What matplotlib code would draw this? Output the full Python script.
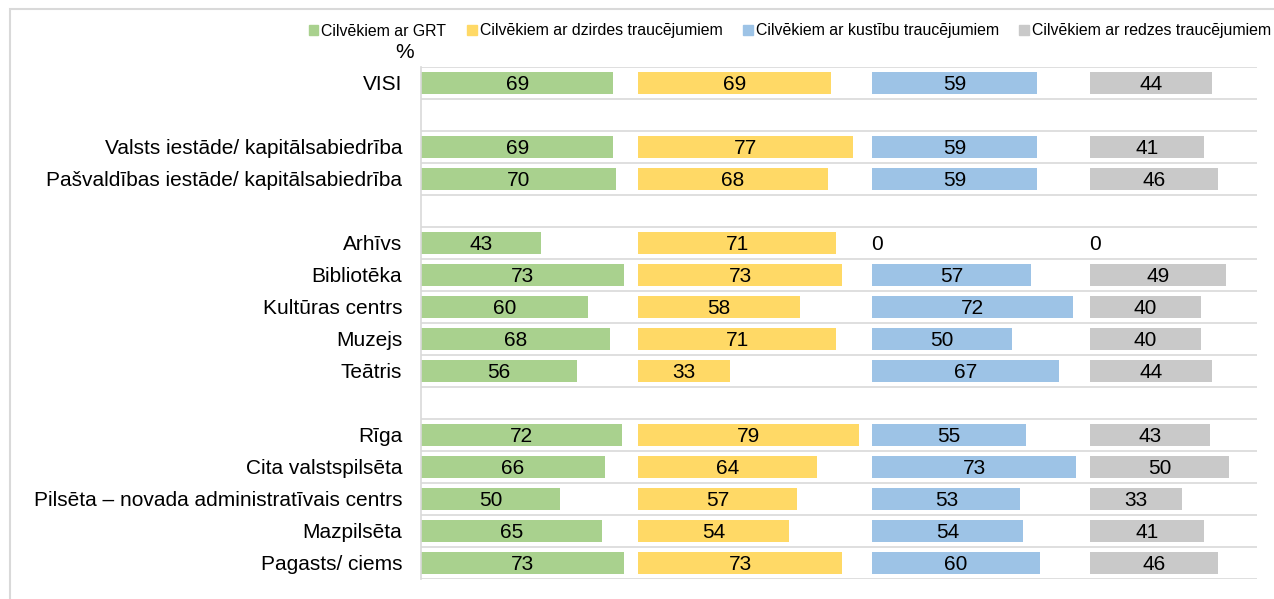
import matplotlib.pyplot as plt
import numpy as np
from matplotlib.patches import Rectangle

plt.rcParams["font.family"] = ["Liberation Sans", "DejaVu Sans"]

categories = [
    "VISI", "",
    "Valsts iestāde/ kapitālsabiedrība",
    "Pašvaldības iestāde/ kapitālsabiedrība", "",
    "Arhīvs", "Bibliotēka", "Kultūras centrs", "Muzejs", "Teātris", "",
    "Rīga", "Cita valstspilsēta",
    "Pilsēta – novada administratīvais centrs",
    "Mazpilsēta", "Pagasts/ ciems",
]
series_names = [
    "Cilvēkiem ar GRT",
    "Cilvēkiem ar dzirdes traucējumiem",
    "Cilvēkiem ar kustību traucējumiem",
    "Cilvēkiem ar redzes traucējumiem",
]
# None = empty spacer row
grt = [69, None, 69, 70, None, 43, 73, 60, 68, 56, None, 72, 66, 50, 65, 73]
dzirdes = [69, None, 77, 68, None, 71, 73, 58, 71, 33, None, 79, 64, 57, 54, 73]
kustibu = [59, None, 59, 59, None, 0, 57, 72, 50, 67, None, 55, 73, 53, 54, 60]
redzes = [44, None, 41, 46, None, 0, 49, 40, 40, 44, None, 43, 50, 33, 41, 46]

COLORS = ["#a9d18e", "#ffd966", "#9dc3e6", "#c9c9c9"]
GAP = 5

fig = plt.figure(figsize=(12.74, 5.99), dpi=100)
ax = fig.add_axes([421 / 1274, 1 - 579 / 599, (1257 - 421) / 1274, 512 / 599])

y = np.arange(len(categories))
offset = 0
handles = []
for name, vals, color in zip(series_names, [grt, dzirdes, kustibu, redzes], COLORS):
    v = np.array([np.nan if x is None else x for x in vals], dtype=float)
    ax.barh(y, np.nan_to_num(v), left=offset, height=0.66, color=color,
            edgecolor="none")
    handles.append(Rectangle((0, 0), 1, 1, color=color))
    for yi, val in zip(y, v):
        if np.isnan(val):
            continue
        xt = offset + val / 2 if val > 0 else offset + 1.8
        ax.text(xt, yi + 0.04, f"{val:.0f}", ha="center", va="center",
                fontsize=15, color="black")
    offset += np.nanmax(v) + GAP

ax.set_xlim(0, 300)
ax.set_ylim(len(categories) - 0.5, -0.5)
ax.set_yticks(y)
ax.set_yticklabels(categories, fontsize=15)
ax.tick_params(axis="y", length=0, pad=13.5)
ax.set_xticks([])
for b in np.arange(len(categories) + 1) - 0.5:
    ax.axhline(b, color="#d9d9d9", lw=1.2, zorder=0)
for s in ["top", "right", "bottom"]:
    ax.spines[s].set_visible(False)
ax.spines["left"].set_color("#d9d9d9")
ax.spines["left"].set_linewidth(1.2)

fig.text(405 / 1274, 1 - 53 / 599, "%", ha="center", va="center", fontsize=15)

fig.legend(handles, series_names, loc="center", ncol=4,
           bbox_to_anchor=(790 / 1274, 1 - 31 / 599), frameon=False,
           fontsize=11.4, handlelength=0.6, handleheight=0.6,
           handletextpad=0.2, columnspacing=1.3)

fig.add_artist(Rectangle((9.5 / 1274, -0.1), 1.2, 1 - 9 / 599 + 0.1,
                         transform=fig.transFigure, fill=False,
                         edgecolor="#d9d9d9", lw=1.5))

fig.savefig("out.png", dpi=100)
